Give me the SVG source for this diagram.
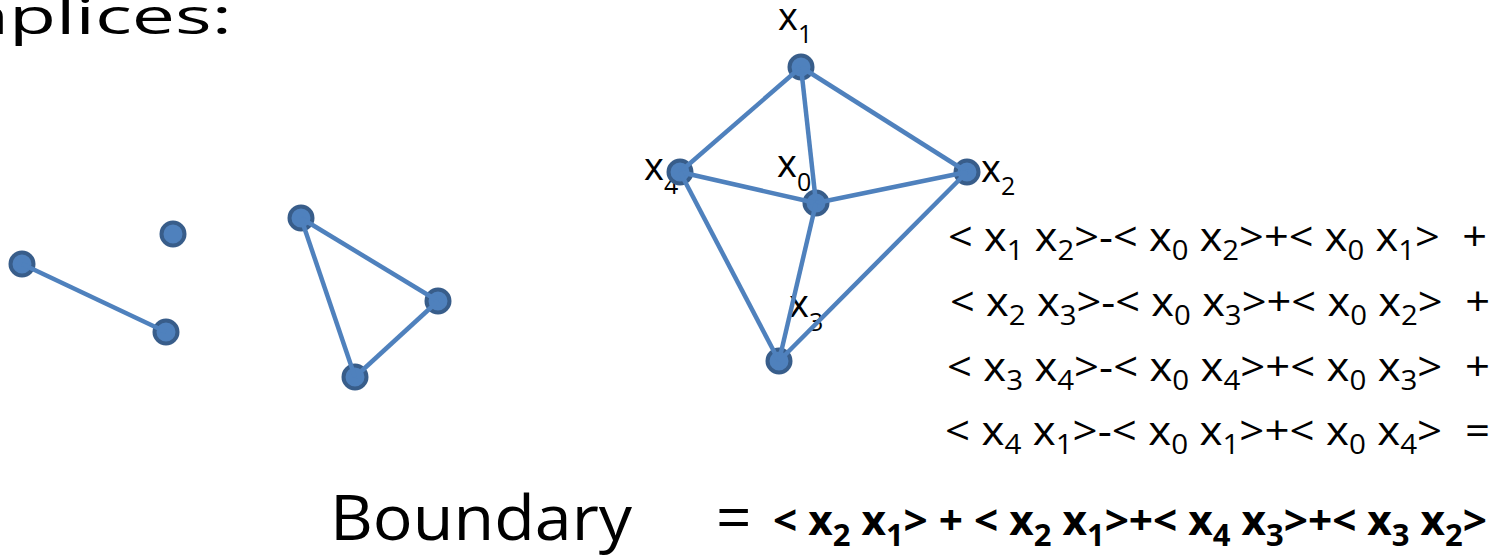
<svg xmlns="http://www.w3.org/2000/svg" width="1502" height="560" viewBox="0 0 1502 560">
<style>
.nd{fill:#4F81BD;stroke:#385D8A;stroke-width:4}
.ed{stroke:#4F81BD;stroke-width:4.5;fill:none;stroke-linecap:butt}
.t{font-family:"Open Sans","Noto Sans",sans-serif;fill:#000;white-space:pre}
.lb{font-size:38px}
.sb{font-size:25px}
.eq{font-size:40px}
.es{font-size:27px}
.bd{font-family:"Open Sans","Noto Sans",sans-serif;font-weight:bold;font-size:41px;white-space:pre}
.bs{font-size:30px}
</style>
<rect width="1502" height="560" fill="#fff"/>
<text class="t" x="-124" y="34" font-size="50" textLength="356" lengthAdjust="spacingAndGlyphs">Simplices:</text>

<g id="p-single"><circle class="nd" cx="173" cy="234" r="11.5"/></g>
<g id="e-a"><circle class="nd" cx="22" cy="264" r="11.5"/></g>
<g id="e-b"><circle class="nd" cx="166" cy="332" r="11.5"/></g>
<g id="t-a"><circle class="nd" cx="301" cy="218" r="11.5"/></g>
<g id="t-b"><circle class="nd" cx="438" cy="301" r="11.5"/></g>
<g id="t-c"><circle class="nd" cx="355" cy="377" r="11.5"/></g>

<g id="x1"><text class="t lb" x="778" y="30">x<tspan class="sb" dy="13">1</tspan></text><circle class="nd" cx="801" cy="67" r="11.5"/></g>
<g id="x4"><text class="t lb" x="644" y="180">x<tspan class="sb" dy="14">4</tspan></text><circle class="nd" cx="680" cy="172" r="11.5"/></g>
<g id="x0"><text class="t lb" x="777" y="177">x<tspan class="sb" dy="14">0</tspan></text><circle class="nd" cx="816" cy="203" r="11.5"/></g>
<g id="x2"><text class="t lb" x="981" y="182">x<tspan class="sb" dy="13">2</tspan></text><circle class="nd" cx="967" cy="172" r="11.5"/></g>
<g id="x3"><text class="t lb" x="789" y="317">x<tspan class="sb" dy="14">3</tspan></text><circle class="nd" cx="779" cy="361" r="11.5"/></g>

<g id="connectors">
<line class="ed" x1="22" y1="264" x2="166" y2="332"/>
<line class="ed" x1="301" y1="218" x2="438" y2="301"/>
<line class="ed" x1="438" y1="301" x2="355" y2="377"/>
<line class="ed" x1="355" y1="377" x2="301" y2="218"/>
<line class="ed" x1="801" y1="67" x2="680" y2="172"/>
<line class="ed" x1="801" y1="67" x2="816" y2="203"/>
<line class="ed" x1="801" y1="67" x2="967" y2="172"/>
<line class="ed" x1="680" y1="172" x2="816" y2="203"/>
<line class="ed" x1="816" y1="203" x2="967" y2="172"/>
<line class="ed" x1="680" y1="172" x2="779" y2="361"/>
<line class="ed" x1="816" y1="203" x2="779" y2="361"/>
<line class="ed" x1="967" y1="172" x2="779" y2="361"/>
</g>

<g id="equations">
<text class="t eq" x="948" y="251" textLength="539" lengthAdjust="spacingAndGlyphs">&lt; x<tspan class="es" dy="9">1</tspan><tspan dy="-9"> x</tspan><tspan class="es" dy="9">2</tspan><tspan dy="-9">&gt;-&lt; x</tspan><tspan class="es" dy="9">0</tspan><tspan dy="-9"> x</tspan><tspan class="es" dy="9">2</tspan><tspan dy="-9">&gt;+&lt; x</tspan><tspan class="es" dy="9">0</tspan><tspan dy="-9"> x</tspan><tspan class="es" dy="9">1</tspan><tspan dy="-9">&gt;  +</tspan></text>
<text class="t eq" x="950" y="316" textLength="540" lengthAdjust="spacingAndGlyphs">&lt; x<tspan class="es" dy="9">2</tspan><tspan dy="-9"> x</tspan><tspan class="es" dy="9">3</tspan><tspan dy="-9">&gt;-&lt; x</tspan><tspan class="es" dy="9">0</tspan><tspan dy="-9"> x</tspan><tspan class="es" dy="9">3</tspan><tspan dy="-9">&gt;+&lt; x</tspan><tspan class="es" dy="9">0</tspan><tspan dy="-9"> x</tspan><tspan class="es" dy="9">2</tspan><tspan dy="-9">&gt;  +</tspan></text>
<text class="t eq" x="947" y="381" textLength="543" lengthAdjust="spacingAndGlyphs">&lt; x<tspan class="es" dy="9">3</tspan><tspan dy="-9"> x</tspan><tspan class="es" dy="9">4</tspan><tspan dy="-9">&gt;-&lt; x</tspan><tspan class="es" dy="9">0</tspan><tspan dy="-9"> x</tspan><tspan class="es" dy="9">4</tspan><tspan dy="-9">&gt;+&lt; x</tspan><tspan class="es" dy="9">0</tspan><tspan dy="-9"> x</tspan><tspan class="es" dy="9">3</tspan><tspan dy="-9">&gt;  +</tspan></text>
<text class="t eq" x="945" y="445" textLength="545" lengthAdjust="spacingAndGlyphs">&lt; x<tspan class="es" dy="9">4</tspan><tspan dy="-9"> x</tspan><tspan class="es" dy="9">1</tspan><tspan dy="-9">&gt;-&lt; x</tspan><tspan class="es" dy="9">0</tspan><tspan dy="-9"> x</tspan><tspan class="es" dy="9">1</tspan><tspan dy="-9">&gt;+&lt; x</tspan><tspan class="es" dy="9">0</tspan><tspan dy="-9"> x</tspan><tspan class="es" dy="9">4</tspan><tspan dy="-9">&gt;  =</tspan></text>
</g>

<g id="boundary">
<text class="t" x="330" y="540" font-size="62" textLength="302" lengthAdjust="spacingAndGlyphs">Boundary</text>
<text class="t" x="716" y="540" font-size="62">=</text>
<text class="bd" x="773" y="535" textLength="714" lengthAdjust="spacingAndGlyphs">&lt; x<tspan class="bs" dy="11">2</tspan><tspan dy="-11"> x</tspan><tspan class="bs" dy="11">1</tspan><tspan dy="-11">&gt; + &lt; x</tspan><tspan class="bs" dy="11">2</tspan><tspan dy="-11"> x</tspan><tspan class="bs" dy="11">1</tspan><tspan dy="-11">&gt;+&lt; x</tspan><tspan class="bs" dy="11">4</tspan><tspan dy="-11"> x</tspan><tspan class="bs" dy="11">3</tspan><tspan dy="-11">&gt;+&lt; x</tspan><tspan class="bs" dy="11">3</tspan><tspan dy="-11"> x</tspan><tspan class="bs" dy="11">2</tspan><tspan dy="-11">&gt;</tspan></text>
</g>
</svg>
